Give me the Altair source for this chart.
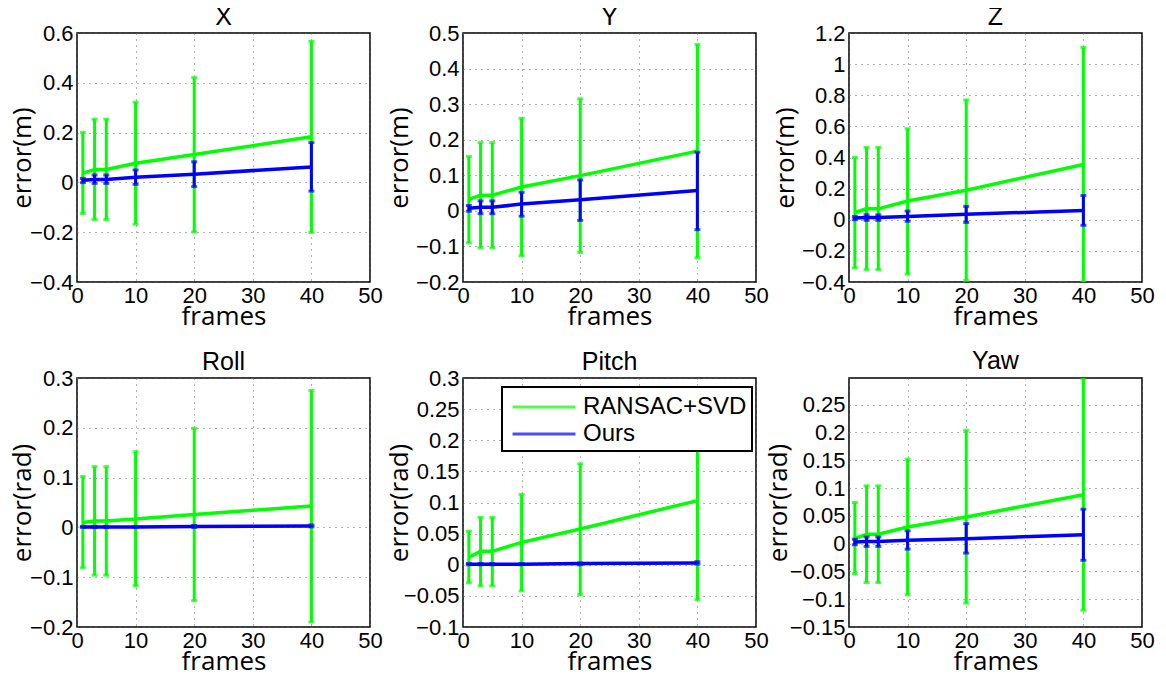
import altair as alt
import pandas as pd

frames = [1, 3, 5, 10, 20, 40]
methods = ["RANSAC+SVD", "Ours"]
method_colors = ["#00ff00", "#0000ff"]
x_ticks = [0, 10, 20, 30, 40, 50]

panel_names = ["X", "Y", "Z", "Roll", "Pitch", "Yaw"]
panel_units = ["m", "m", "m", "rad", "rad", "rad"]

# X
x_ransac_mean = [0.036, 0.052, 0.052, 0.077, 0.112, 0.183]
x_ransac_lo = [-0.125, -0.149, -0.149, -0.168, -0.199, -0.201]
x_ransac_hi = [0.201, 0.254, 0.254, 0.322, 0.421, 0.566]
x_ours_mean = [0.009, 0.012, 0.012, 0.021, 0.033, 0.062]
x_ours_lo = [-0.001, -0.004, -0.004, -0.008, -0.017, -0.035]
x_ours_hi = [0.016, 0.030, 0.030, 0.050, 0.083, 0.160]
x_ticks_y = [-0.4, -0.2, 0, 0.2, 0.4, 0.6]

# Y
y_ransac_mean = [0.032, 0.044, 0.044, 0.067, 0.099, 0.168]
y_ransac_lo = [-0.090, -0.104, -0.104, -0.126, -0.117, -0.132]
y_ransac_hi = [0.153, 0.192, 0.192, 0.260, 0.315, 0.468]
y_ours_mean = [0.007, 0.010, 0.010, 0.019, 0.031, 0.057]
y_ours_lo = [-0.001, -0.008, -0.008, -0.015, -0.027, -0.053]
y_ours_hi = [0.015, 0.028, 0.028, 0.052, 0.087, 0.165]
y_ticks_y = [-0.2, -0.1, 0, 0.1, 0.2, 0.3, 0.4, 0.5]

# Z
z_ransac_mean = [0.045, 0.072, 0.070, 0.120, 0.190, 0.355]
z_ransac_lo = [-0.310, -0.320, -0.320, -0.350, -0.390, -0.400]
z_ransac_hi = [0.400, 0.465, 0.465, 0.585, 0.770, 1.107]
z_ours_mean = [0.011, 0.015, 0.015, 0.021, 0.035, 0.060]
z_ours_lo = [0.000, -0.004, -0.004, -0.010, -0.017, -0.036]
z_ours_hi = [0.021, 0.032, 0.032, 0.056, 0.086, 0.156]
z_ticks_y = [-0.4, -0.2, 0, 0.2, 0.4, 0.6, 0.8, 1, 1.2]

# Roll
roll_ransac_mean = [0.010, 0.013, 0.013, 0.017, 0.026, 0.043]
roll_ransac_lo = [-0.081, -0.096, -0.096, -0.117, -0.147, -0.190]
roll_ransac_hi = [0.102, 0.122, 0.122, 0.152, 0.199, 0.275]
roll_ours_mean = [0.001, 0.001, 0.001, 0.001, 0.002, 0.003]
roll_ours_lo = [0.000, 0.000, 0.000, 0.000, 0.000, 0.001]
roll_ours_hi = [0.002, 0.002, 0.002, 0.002, 0.004, 0.005]
roll_ticks_y = [-0.2, -0.1, 0, 0.1, 0.2, 0.3]

# Pitch
pitch_ransac_mean = [0.012, 0.0215, 0.0215, 0.036, 0.0575, 0.103]
pitch_ransac_lo = [-0.029, -0.034, -0.034, -0.042, -0.048, -0.056]
pitch_ransac_hi = [0.054, 0.076, 0.076, 0.113, 0.162, 0.262]
pitch_ours_mean = [0.001, 0.001, 0.001, 0.001, 0.002, 0.003]
pitch_ours_lo = [0.000, 0.000, 0.000, 0.000, 0.000, 0.001]
pitch_ours_hi = [0.002, 0.002, 0.002, 0.002, 0.003, 0.005]
pitch_ticks_y = [-0.1, -0.05, 0, 0.05, 0.1, 0.15, 0.2, 0.25, 0.3]

# Yaw
yaw_ransac_mean = [0.009, 0.017, 0.017, 0.030, 0.048, 0.088]
yaw_ransac_lo = [-0.054, -0.070, -0.070, -0.092, -0.107, -0.120]
yaw_ransac_hi = [0.074, 0.104, 0.104, 0.152, 0.204, 0.297]
yaw_ours_mean = [0.003, 0.004, 0.004, 0.006, 0.009, 0.016]
yaw_ours_lo = [-0.002, -0.005, -0.005, -0.010, -0.017, -0.030]
yaw_ours_hi = [0.008, 0.012, 0.012, 0.023, 0.036, 0.062]
yaw_ticks_y = [-0.15, -0.1, -0.05, 0, 0.05, 0.1, 0.15, 0.2, 0.25]

panel_data = [
    (x_ransac_mean, x_ransac_lo, x_ransac_hi, x_ours_mean, x_ours_lo, x_ours_hi, [-0.4, 0.6], x_ticks_y),
    (y_ransac_mean, y_ransac_lo, y_ransac_hi, y_ours_mean, y_ours_lo, y_ours_hi, [-0.2, 0.5], y_ticks_y),
    (z_ransac_mean, z_ransac_lo, z_ransac_hi, z_ours_mean, z_ours_lo, z_ours_hi, [-0.4, 1.2], z_ticks_y),
    (roll_ransac_mean, roll_ransac_lo, roll_ransac_hi, roll_ours_mean, roll_ours_lo, roll_ours_hi, [-0.2, 0.3], roll_ticks_y),
    (pitch_ransac_mean, pitch_ransac_lo, pitch_ransac_hi, pitch_ours_mean, pitch_ours_lo, pitch_ours_hi, [-0.1, 0.3], pitch_ticks_y),
    (yaw_ransac_mean, yaw_ransac_lo, yaw_ransac_hi, yaw_ours_mean, yaw_ours_lo, yaw_ours_hi, [-0.15, 0.298], yaw_ticks_y),
]
ytitle_extents = [39, 48, 48, 39, 48, 55]
title_offsets = [-8, -8, -8, -8, -8, 4]

W, H = 293, 249


def make_panel(i):
    rm, rlo, rhi, om, olo, ohi, ydom, yt = panel_data[i]
    rows = []
    for m, mean, lo, hi in [(methods[0], rm, rlo, rhi), (methods[1], om, olo, ohi)]:
        for f, a, b, c in zip(frames, mean, lo, hi):
            rows.append({"frames": f, "method": m, "mean": a, "lo": b, "hi": c})
    df = pd.DataFrame(rows)

    if panel_names[i] == "Pitch":
        leg = alt.Legend(
            orient="none", legendX=39, legendY=9, title=None,
            symbolType="M-2.33,0H2.33", symbolSize=729, symbolStrokeWidth=3,
            symbolOffset=22,
            labelFontSize=24, labelFont="Liberation Sans", labelColor="black",
            labelLimit=400, labelOffset=24, padding=5, rowPadding=0,
            strokeColor="black", fillColor="white", cornerRadius=0, zindex=1,
        )
    else:
        leg = None
    color = alt.Color("method:N", scale=alt.Scale(domain=methods, range=method_colors), legend=leg)

    xenc = alt.X(
        "frames:Q",
        scale=alt.Scale(domain=[0, 50], nice=False),
        axis=alt.Axis(values=x_ticks, title="frames", labelFlush=False, labelOverlap=False),
    )
    yscale = alt.Scale(domain=ydom, nice=False, zero=False)
    yaxis = alt.Axis(
        values=yt, title=f"error({panel_units[i]})", format="~g",
        minExtent=ytitle_extents[i], maxExtent=ytitle_extents[i], labelOverlap=False,
    )

    layers = []
    for m in methods:
        base = alt.Chart(df).transform_filter(alt.datum.method == m)
        layers.append(base.mark_rule(strokeWidth=3, clip=True).encode(
            x=xenc, y=alt.Y("lo:Q", scale=yscale, axis=yaxis), y2="hi:Q", color=color))
        layers.append(base.mark_tick(orient="horizontal", size=6, thickness=3, clip=True).encode(
            x=xenc, y=alt.Y("lo:Q", scale=yscale, axis=yaxis), color=color))
        layers.append(base.mark_tick(orient="horizontal", size=6, thickness=3, clip=True).encode(
            x=xenc, y=alt.Y("hi:Q", scale=yscale, axis=yaxis), color=color))
        layers.append(base.mark_line(strokeWidth=3.5, clip=True).encode(
            x=xenc, y=alt.Y("mean:Q", scale=yscale, axis=yaxis), color=color))
    return alt.layer(*layers).properties(
        width=W, height=H,
        title=alt.TitleParams(text=panel_names[i], fontSize=25, font="Liberation Sans",
                              fontWeight="normal", color="black", offset=title_offsets[i]),
    )


chart = alt.concat(*[make_panel(i) for i in range(6)], columns=3,
                   spacing={"row": 96, "column": 93}, bounds="flush") \
    .resolve_scale(color="independent").resolve_legend(color="independent") \
    .properties(padding={"left": 0, "top": -4, "right": 2, "bottom": 0}, background="white") \
    .configure_view(stroke="black", strokeWidth=1.5) \
    .configure_axis(
        labelFont="Liberation Sans", labelFontSize=22, labelColor="black", labelPadding=4,
        titleFont="Open Sans", titleFontSize=26, titleFontWeight="normal", titleColor="black",
        titlePadding=3, domain=False, ticks=False, grid=True, gridColor="#666666",
        gridDash=[1, 5], gridWidth=1,
    ) \
    .configure_axisX(titlePadding=-3, labelPadding=3) \
    .configure_legend(strokeWidth=2)

chart.save("out.html", embed_options={"renderer": "svg", "actions": False})
